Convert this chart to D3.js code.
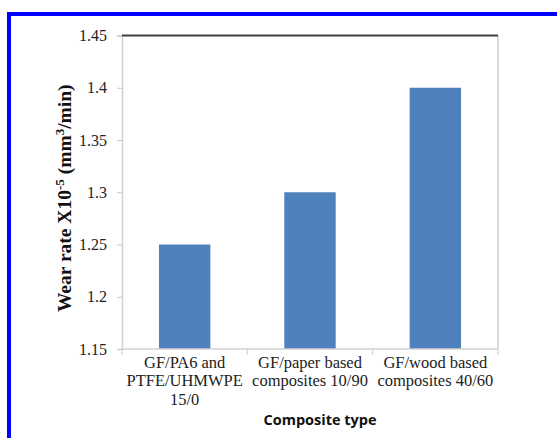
<!DOCTYPE html>
<html>
<head>
<meta charset="utf-8">
<script src="https://cdn.jsdelivr.net/npm/d3@7"></script>
<style>
  body { margin: 0; background: #fff; }
</style>
</head>
<body>
<div id="chart"></div>
<script>
// chart data
var categories = ["GF/PA6 and PTFE/UHMWPE 15/0", "GF/paper based composites 10/90", "GF/wood based composites 40/60"];
var catLines = [["GF/PA6 and", "PTFE/UHMWPE", "15/0"], ["GF/paper based", "composites 10/90"], ["GF/wood based", "composites 40/60"]];
var wearRate = [1.25, 1.3, 1.4];
var yTicks = [1.15, 1.2, 1.25, 1.3, 1.35, 1.4, 1.45];

var W = 557, H = 438;
var margin = {top: 35.5, right: 59, bottom: 89, left: 122},
    width = W - margin.left - margin.right,
    height = H - margin.top - margin.bottom;

var svg = d3.select("#chart").append("svg")
    .attr("width", W)
    .attr("height", H);

// blue frame round the figure
svg.append("rect")
    .attr("x", 9).attr("y", 14)
    .attr("width", W + 20).attr("height", H + 20)
    .attr("fill", "none")
    .attr("stroke", "#0000ff")
    .attr("stroke-width", 4);

var g = svg.append("g")
    .attr("transform", "translate(" + margin.left + "," + margin.top + ")");

var x = d3.scaleBand()
    .domain(categories)
    .range([0, width])
    .paddingInner(0.59)
    .paddingOuter(0.295);

var y = d3.scaleLinear()
    .domain([1.15, 1.45])
    .range([height, 0]);

// right border of plot area
g.append("line")
    .attr("x1", width).attr("x2", width)
    .attr("y1", 0).attr("y2", height)
    .attr("stroke", "#d9d9d9").attr("stroke-width", 2);

// category separators below x axis
var step = x.step();
g.selectAll(".sep")
    .data(d3.range(categories.length + 1))
    .enter().append("line")
    .attr("class", "sep")
    .attr("x1", function(i) { return i * step; })
    .attr("x2", function(i) { return i * step; })
    .attr("y1", height).attr("y2", height + 6)
    .attr("stroke", "#d0d0d0").attr("stroke-width", 1);

// bars
g.selectAll(".bar")
    .data(wearRate)
    .enter().append("rect")
    .attr("class", "bar")
    .attr("x", function(d, i) { return x(categories[i]); })
    .attr("width", x.bandwidth())
    .attr("y", function(d) { return y(d); })
    .attr("height", function(d) { return height - y(d); })
    .attr("fill", "#4f81bd");

// y axis
var yAxis = g.append("g")
    .call(d3.axisLeft(y).tickValues(yTicks).tickSize(5).tickPadding(10)
        .tickFormat(function(d) { return d3.format("")(+d.toFixed(2)); }));
yAxis.select(".domain").attr("stroke", "#d0d0d0").attr("stroke-width", 1.5);
yAxis.selectAll(".tick line").attr("stroke", "#c8c8c8");
yAxis.selectAll(".tick text")
    .attr("font-family", "'Liberation Serif', serif")
    .attr("font-size", "16px")
    .attr("fill", "#222");

// x axis line
g.append("line")
    .attr("x1", 0).attr("x2", width)
    .attr("y1", height).attr("y2", height)
    .attr("stroke", "#d0d0d0").attr("stroke-width", 1.5);

// dark top line
g.append("line")
    .attr("x1", 0).attr("x2", width)
    .attr("y1", 0).attr("y2", 0)
    .attr("stroke", "#404040").attr("stroke-width", 2);

// category labels
var labels = g.selectAll(".cat")
    .data(categories)
    .enter().append("text")
    .attr("class", "cat")
    .attr("text-anchor", "middle")
    .attr("font-family", "'Liberation Serif', serif")
    .attr("font-size", "16px")
    .attr("fill", "#222")
    .attr("transform", function(d) { return "translate(" + (x(d) + x.bandwidth() / 2) + "," + (height + 19) + ") scale(1.03,1)"; });

labels.selectAll("tspan")
    .data(function(d, i) { return catLines[i]; })
    .enter().append("tspan")
    .attr("x", 0)
    .attr("y", function(d, j) { return j * 18.5; })
    .text(function(d) { return d; });

// x axis title
g.append("text")
    .attr("x", width / 2 + 10)
    .attr("y", height + 76)
    .attr("text-anchor", "middle")
    .attr("font-family", "'Open Sans', sans-serif")
    .attr("font-weight", "bold")
    .attr("font-size", "14.5px")
    .attr("fill", "#111")
    .text("Composite type");

// y axis title
var yt = svg.append("text")
    .attr("transform", "translate(71," + (margin.top + height / 2 + 6) + ") rotate(-90)")
    .attr("text-anchor", "middle")
    .attr("font-family", "'Liberation Serif', serif")
    .attr("font-weight", "bold")
    .attr("font-size", "19.5px")
    .attr("fill", "#111");
yt.append("tspan").text("Wear rate X10");
yt.append("tspan").attr("font-size", "13px").attr("dy", -7).text("-5");
yt.append("tspan").attr("dy", 7).text(" (mm");
yt.append("tspan").attr("font-size", "13px").attr("dy", -7).text("3");
yt.append("tspan").attr("dy", 7).text("/min)");
</script>
</body>
</html>
